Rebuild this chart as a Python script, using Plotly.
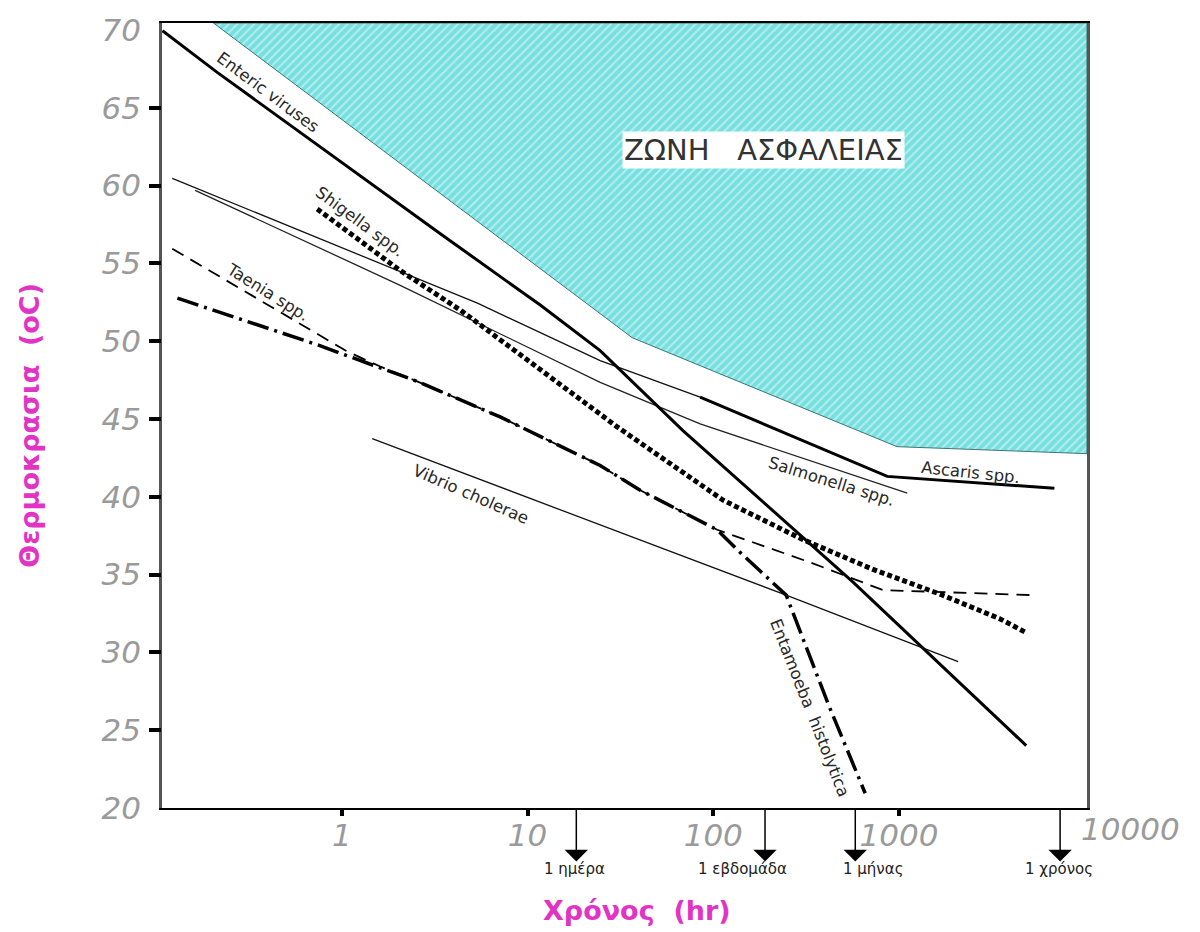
import numpy as np
import plotly.graph_objects as go

# ---------------- data (time in hours, temperature in °C) ----------------
zone_hours = [0.203, 36.6, 977, 10300]
zone_temp = [70.45, 50.22, 43.22, 42.77]

enteric_hours = [0.108, 0.213, 3.39, 11.7, 24.6, 68.9, 568, 4850]
enteric_temp = [69.95, 67.27, 56.90, 52.32, 49.39, 44.24, 34.50, 24.01]

ascaris_hours = [0.122, 5.37, 24.6, 85, 865, 6870]
ascaris_temp = [60.46, 52.44, 48.75, 46.40, 41.31, 40.55]

salmonella_hours = [0.162, 2.06, 24.6, 85, 1109]
salmonella_temp = [59.69, 53.59, 47.35, 44.68, 40.23]

shigella_hours = [0.736, 2.06, 4.34, 30.4, 113, 305, 726, 1667, 3510, 4790]
shigella_temp = [58.49, 54.54, 52.0, 44.49, 39.78, 37.24, 35.33, 33.74, 32.15, 31.3]

taenia_hours = [0.122, 1.07, 1.61, 2.54, 7.12, 24.6, 40.4, 105, 333, 822, 5270]
taenia_temp = [55.94, 49.33, 48.37, 47.42, 45.13, 42.01, 40.42, 37.88, 35.78, 34.0, 33.68]

entamoeba_hours = [0.130, 0.736, 2.54, 7.12, 24.6, 40.4, 105, 140, 247, 416, 658]
entamoeba_temp = [52.76, 49.77, 47.42, 45.13, 42.01, 40.42, 37.88, 36.41, 33.68, 26.68, 20.95]

vibrio_hours = [1.456, 24.6, 247, 2084]
vibrio_temp = [43.73, 38.19, 33.68, 29.41]

y_tick_vals = [20, 25, 30, 35, 40, 45, 50, 55, 60, 65, 70]
y_tick_marks = [25, 30, 35, 40, 45, 50, 55, 60, 65]
x_tick_vals = [1, 10, 100, 1000]
x_tick_text = ["1", "10", "100", "1000"]
x_extra_label = "10000"

arrow_hours = [18.3, 190, 582, 7380]
arrow_labels = ["1 ημέρα", "1 εβδομάδα", "1 μήνας", "1 χρόνος"]
arrow_label_hours = [18.0, 143, 728, 7300]

X_RANGE = [-0.969, 4.013]
Y_RANGE = [20, 70.445]

fig = go.Figure()

# safety zone polygon (boundary + top edge of the chart)
zx = list(zone_hours) + [zone_hours[-1], zone_hours[0]]
zy = list(zone_temp) + [Y_RANGE[1], Y_RANGE[1]]
cyan = "#76dfdf"
fig.add_trace(go.Scatter(
    x=zx, y=zy, mode="lines", fill="toself",
    fillcolor=cyan,
    fillpattern=dict(shape="/", fgcolor="rgba(255,255,255,0.9)", bgcolor=cyan,
                     size=6, solidity=0.35, fillmode="overlay"),
    line=dict(color="#3e7676", width=1), hoverinfo="skip", showlegend=False))

def line(x, y, width, color="black", dash="solid", yaxis="y"):
    fig.add_trace(go.Scatter(x=x, y=y, mode="lines", yaxis=yaxis,
                             line=dict(color=color, width=width, dash=dash),
                             showlegend=False, hoverinfo="skip"))

line(vibrio_hours, vibrio_temp, 1.3, "#111", yaxis="y2")
line(salmonella_hours, salmonella_temp, 1.3, "#222")
line(ascaris_hours, ascaris_temp, 1.3, "#111")
line(ascaris_hours[3:], ascaris_temp[3:], 3, "black")
line(taenia_hours, taenia_temp, 1.8, "black", "13px,8px")
line(entamoeba_hours, entamoeba_temp, 3.5, "black", "22px,6px,3px,6px")
line(shigella_hours, shigella_temp, 5, "black", "5px,3px")
line(enteric_hours, enteric_temp, 3, "black")

label_font = dict(family="DejaVu Sans", size=16.5, color="#2a2a2a")
labels = [
    ("Enteric viruses", -0.397, 66.0, 36.6),
    ("Shigella spp.", 0.094, 57.66, 36.5),
    ("Taenia spp.", -0.397, 53.14, 32),
    ("Vibrio cholerae", 0.697, 40.17, 23.6),
    ("Salmonella spp.", 2.635, 40.99, 17.3),
    ("Ascaris spp.", 3.384, 41.57, 6),
    ("Entamoeba  histolytica", 2.522, 26.42, 68.5),
]
for t, lx, ly, ang in labels:
    fig.add_annotation(x=lx, y=ly, xref="x", yref="y", text=t, showarrow=False,
                       textangle=ang, font=label_font, xanchor="center", yanchor="middle")

# safety zone label
fig.add_annotation(x=np.log10(186), y=62.3, xref="x", yref="y",
                   text="ΖΩΝΗ   ΑΣΦΑΛΕΙΑΣ", showarrow=False,
                   xanchor="center", yanchor="middle",
                   font=dict(family="DejaVu Sans", size=29, color="#333"),
                   bgcolor="white", borderpad=1)

tick_font = dict(family="DejaVu Sans", size=31, color="#9a9a9a", style="italic")

# extra x tick label beyond the plot edge
fig.add_annotation(x=1.0465, y=-0.0265, xref="paper", yref="paper",
                   xanchor="center", yanchor="middle",
                   text=x_extra_label, showarrow=False, font=tick_font)

# arrows to reference periods
for h in arrow_hours:
    fig.add_annotation(x=np.log10(h), y=-0.068, xref="x", yref="paper", text="",
                       showarrow=True, ax=0, ay=-54, arrowhead=1, arrowsize=2.6,
                       arrowwidth=1.5, arrowcolor="black", standoff=0, startstandoff=0)
for t, h in zip(arrow_labels, arrow_label_hours):
    fig.add_annotation(x=np.log10(h), y=-0.0775, xref="x", yref="paper", text=t,
                       xanchor="center", yanchor="middle",
                       showarrow=False, font=dict(family="DejaVu Sans", size=15, color="#222"))

magenta = "#e234c4"
fig.add_annotation(x=0.5135, y=-0.131, xref="paper", yref="paper", text="Χρόνος  (hr)",
                   xanchor="center", yanchor="middle",
                   showarrow=False, font=dict(family="DejaVu Sans", size=27, color=magenta,
                                              weight="bold"))
fig.add_annotation(x=-0.1427, y=0.487, xref="paper", yref="paper",
                   xanchor="center", yanchor="middle",
                   text="Θερμοκρασια  (oC)", textangle=-90, showarrow=False,
                   font=dict(family="DejaVu Sans", size=27, color=magenta, weight="bold"))

fig.update_layout(
    width=1200, height=932, autosize=False,
    margin=dict(l=162, r=113, t=15, b=124),
    plot_bgcolor="white", paper_bgcolor="white",
    xaxis=dict(type="log", range=X_RANGE, tickvals=x_tick_vals, ticktext=x_tick_text,
               ticks="outside", ticklen=6, tickwidth=4, tickcolor="black",
               showline=True, linecolor="black", linewidth=2, mirror=True,
               showgrid=False, zeroline=False, tickfont=tick_font,
               ticklabelstandoff=-7),
    yaxis=dict(range=Y_RANGE, tickvals=y_tick_vals, ticks="", showline=True,
               linecolor="#555", linewidth=2.5, mirror=True, showgrid=False,
               zeroline=False, tickfont=tick_font, ticklabelstandoff=12),
    yaxis2=dict(range=Y_RANGE, overlaying="y", side="left", anchor="x",
                tickvals=y_tick_marks, ticks="outside", ticklen=12, tickwidth=4,
                tickcolor="black", showticklabels=False, showgrid=False,
                zeroline=False, showline=False),
)

fig.write_html("out.html")
